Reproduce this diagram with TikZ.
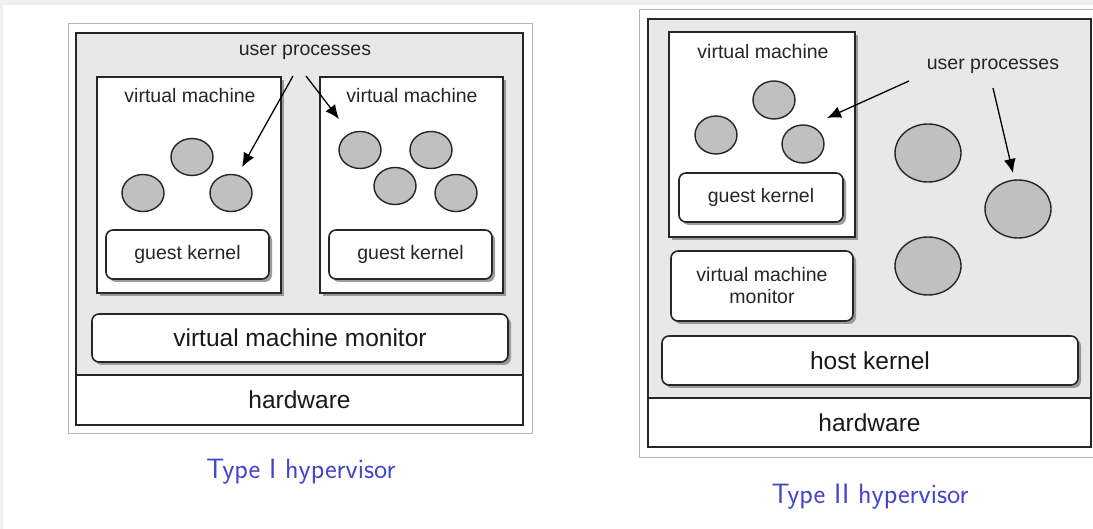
\documentclass[tikz,border=0pt]{standalone}
\usepackage{fontspec}
\setmainfont{Liberation Sans}
\usetikzlibrary{arrows.meta,shadows,shapes.geometric}
\definecolor{panelgray}{HTML}{E8E8E8}
\definecolor{framegray}{HTML}{B4B4B4}
\definecolor{edge}{HTML}{262626}
\definecolor{procgray}{HTML}{C0C0C0}
\definecolor{capblue}{rgb}{0.27,0.27,0.8}
\definecolor{stripgray}{HTML}{F0F0F0}
\tikzset{
  sh/.style={drop shadow={shadow xshift=3pt,shadow yshift=-3pt,fill=black!45,opacity=0.85}},
  vmbox/.style={draw=edge,line width=1.6pt,fill=white,sh,inner sep=0pt},
  kbox/.style={draw=edge,line width=1.6pt,fill=white,rounded corners=7pt,sh,inner sep=0pt,align=center},
  layer/.style={draw=edge,line width=1.6pt,inner sep=0pt},
  proc/.style={ellipse,draw=edge,line width=1.4pt,fill=procgray,inner sep=0pt},
  small/.style={font=\fontsize{19.5}{23}\selectfont,text=black!85},
  big/.style={font=\fontsize{24.5}{28}\selectfont,text=black!90},
  caption/.style={font=\sffamily\fontsize{28}{32}\selectfont,text=capblue},
  ptr/.style={-{Latex[length=14pt,width=12pt]},line width=1.3pt,draw=black},
}
\begin{document}
\begin{tikzpicture}[x=1pt,y=-1pt]
\useasboundingbox (0,0) rectangle (1093,529);
% page margins
\fill[stripgray] (0,0) rectangle (1093,5);
\fill[stripgray] (0,0) rectangle (3,529);

% ---------------- Type I ----------------
\node[draw=framegray,line width=1pt,minimum width=464pt,minimum height=409pt,inner sep=0pt] (frame1) at (300,228.5) {};
\node[layer,fill=panelgray,minimum width=447pt,minimum height=342pt] (sys1) at (299.5,204) {};
\node[layer,fill=white,minimum width=447pt,minimum height=50pt,big] (hw1) at (299.5,400) {hardware};

\node[vmbox,minimum width=184pt,minimum height=216pt] (vmA) at (189,185) {};
\node[vmbox,minimum width=183pt,minimum height=216pt] (vmB) at (411.5,185) {};
\node[small] (vmAlabel) at (190,96) {virtual machine};
\node[small] (vmBlabel) at (412,96) {virtual machine};
\node[kbox,minimum width=163pt,minimum height=49pt,small] (gkA) at (187.5,254.5) {guest kernel};
\node[kbox,minimum width=163pt,minimum height=49pt,small] (gkB) at (410.5,254.5) {guest kernel};
\node[kbox,minimum width=416pt,minimum height=48pt,big] (vmm1) at (300,338) {virtual machine monitor};

\node[proc,minimum width=42pt,minimum height=37pt] (pA1) at (192,157) {};
\node[proc,minimum width=42pt,minimum height=37pt] (pA2) at (143,193) {};
\node[proc,minimum width=42pt,minimum height=37pt] (pA3) at (231,193) {};
\node[proc,minimum width=42pt,minimum height=37pt] (pB1) at (360,150) {};
\node[proc,minimum width=42pt,minimum height=37pt] (pB2) at (431,150) {};
\node[proc,minimum width=42pt,minimum height=37pt] (pB3) at (395,186) {};
\node[proc,minimum width=42pt,minimum height=37pt] (pB4) at (456,193) {};

\node[small] (up1) at (305,52) {user processes};
\coordinate (up1a) at (293,76);
\coordinate (up1b) at (306,76);
\coordinate (tipA) at (242,167);
\coordinate (tipB) at (339,119);
\draw[ptr] (up1a) -- (tipA);
\draw[ptr] (up1b) -- (tipB);

\node[caption] (cap1) at (301,472) {Type I hypervisor};

% ---------------- Type II ----------------
\node[draw=framegray,line width=1pt,minimum width=461pt,minimum height=447pt,inner sep=0pt] (frame2) at (869.5,233.5) {};
\node[layer,fill=panelgray,minimum width=443pt,minimum height=379pt] (sys2) at (869.5,208.5) {};
\node[layer,fill=white,minimum width=443pt,minimum height=49pt,big] (hw2) at (869.5,422.5) {hardware};

\node[vmbox,minimum width=186pt,minimum height=205pt] (vmC) at (762,134.5) {};
\node[small] (vmClabel) at (763,52) {virtual machine};
\node[kbox,minimum width=164pt,minimum height=49pt,small] (gkC) at (761,197.5) {guest kernel};
\node[kbox,minimum width=182pt,minimum height=70pt,small] (vmm2) at (762,286) {virtual machine\\[-1pt]monitor};
\node[kbox,minimum width=416pt,minimum height=49pt,big] (hk2) at (870,360.5) {host kernel};

\node[proc,minimum width=42pt,minimum height=38pt] (pC1) at (774,100) {};
\node[proc,minimum width=42pt,minimum height=38pt] (pC2) at (716,135) {};
\node[proc,minimum width=42pt,minimum height=38pt] (pC3) at (803,144) {};
\node[proc,minimum width=66pt,minimum height=58pt] (pD1) at (928,153) {};
\node[proc,minimum width=66pt,minimum height=58pt] (pD2) at (1018,209) {};
\node[proc,minimum width=66pt,minimum height=58pt] (pD3) at (928,266) {};

\node[small] (up2) at (993,66) {user processes};
\coordinate (up2a) at (909,81);
\coordinate (up2b) at (993,88);
\coordinate (tipC) at (827,118);
\coordinate (tipD) at (1013,173);
\draw[ptr] (up2a) -- (tipC);
\draw[ptr] (up2b) -- (tipD);

\node[caption] (cap2) at (870,497) {Type II hypervisor};
\end{tikzpicture}
\end{document}
